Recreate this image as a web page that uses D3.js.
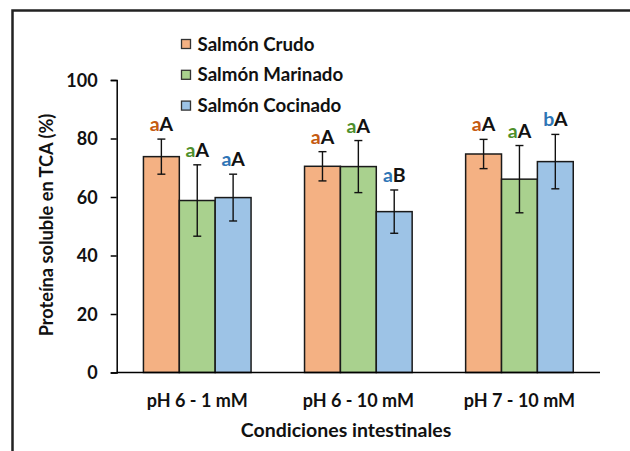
<!DOCTYPE html>
<html><head><meta charset="utf-8">
<script src="https://cdn.jsdelivr.net/npm/d3@7"></script>
<style>
body{margin:0;background:#fff;}
text{font-family:Lato,"Open Sans",sans-serif;font-weight:bold;}
</style></head>
<body><svg id="c" width="630" height="451"></svg>
<script>
const categories = ["pH 6 - 1 mM","pH 6 - 10 mM","pH 7 - 10 mM"];
const seriesNames = ["Salmón Crudo","Salmón Marinado","Salmón Cocinado"];
const crudo = [73.8, 70.5, 74.7];
const marinado = [58.8, 70.4, 66.1];
const cocinado = [59.8, 55.0, 72.1];
const crudoErr = [6.0, 5.0, 5.0];
const marinadoErr = [12.2, 8.9, 11.5];
const cocinadoErr = [8.0, 7.4, 9.3];
const lowerLetters = [["a","a","a"],["a","a","a"],["a","a","b"]];
const upperLetters = [["A","A","A"],["A","A","B"],["A","A","A"]];
const yTicks = [0,20,40,60,80,100];
const fills = ["#f4b183","#a9d18e","#9dc3e6"];
const letterColors = ["#c55a11","#4e8f2b","#2e75b6"];

const values = [crudo, marinado, cocinado];
const errs = [crudoErr, marinadoErr, cocinadoErr];

const svg = d3.select("#c");
svg.append("rect").attr("x",12.5).attr("y",10.5).attr("width",640).attr("height",460)
  .attr("fill","none").attr("stroke","#222").attr("stroke-width",2.5);

const x0 = d3.scaleBand().domain(categories).range([116.7,600]).paddingInner(0.332).paddingOuter(0.166);
const x1 = d3.scaleBand().domain(seriesNames).range([0,x0.bandwidth()]);
const y = d3.scaleLinear().domain([0,100]).range([372.5,80]);

const yAxis = svg.append("g").attr("transform","translate(116.7,0)")
  .call(d3.axisLeft(y).tickValues(yTicks).tickSize(6).tickPadding(13));
yAxis.select(".domain").attr("stroke","#000").attr("stroke-width",1.5);
yAxis.selectAll(".tick line").attr("stroke","#000").attr("stroke-width",1.5);
yAxis.selectAll(".tick text").attr("font-size",18).attr("fill","#111")
  .style("font-family","Lato").style("font-weight","bold").attr("dy","0.36em");

const groups = svg.append("g").selectAll("g").data(categories).join("g")
  .attr("transform",d=>`translate(${x0(d)},0)`);
categories.forEach((c,ci)=>{
  const g = groups.filter(d=>d===c);
  seriesNames.forEach((s,si)=>{
    const v = values[si][ci], e = errs[si][ci];
    const bx = x1(s), bw = x1.bandwidth();
    g.append("rect").attr("x",bx).attr("y",y(v)).attr("width",bw).attr("height",y(0)-y(v))
      .attr("fill",fills[si]).attr("stroke","#1a1a1a").attr("stroke-width",1.5);
    const cx = bx + bw/2;
    g.append("line").attr("x1",cx).attr("x2",cx).attr("y1",y(v+e)).attr("y2",y(v-e))
      .attr("stroke","#111").attr("stroke-width",1.4);
    [v+e, v-e].forEach(t=>g.append("line").attr("x1",cx-4).attr("x2",cx+4).attr("y1",y(t)).attr("y2",y(t))
      .attr("stroke","#111").attr("stroke-width",1.4));
    const t = g.append("text").attr("x",cx).attr("y",y(v+e)-8).attr("text-anchor","middle")
      .attr("font-size",19.5);
    t.append("tspan").attr("fill",letterColors[si]).text(lowerLetters[ci][si]);
    t.append("tspan").attr("fill","#111").text(upperLetters[ci][si]);
  });
});

svg.append("line").attr("x1",116.7).attr("x2",600).attr("y1",y(0)).attr("y2",y(0))
  .attr("stroke","#000").attr("stroke-width",1.5);
const xAxis = svg.append("g").attr("transform",`translate(0,${y(0)})`)
  .call(d3.axisBottom(x0).tickSize(0).tickPadding(0));
xAxis.select(".domain").remove();
xAxis.selectAll(".tick text").attr("y",34).attr("dy",0).attr("font-size",18).attr("fill","#111")
  .style("font-family","Lato").style("font-weight","bold");

svg.append("text").attr("x",346).attr("y",437).attr("text-anchor","middle")
  .attr("font-size",19.5).attr("fill","#111").text("Condiciones intestinales");
svg.append("text").attr("transform","translate(53,225) rotate(-90)").attr("text-anchor","middle")
  .attr("font-size",18.2).attr("fill","#111").text("Proteína soluble en TCA (%)");

const lg = svg.append("g");
seriesNames.forEach((s,i)=>{
  const cy = 44 + i*30.8;
  lg.append("rect").attr("x",181.5).attr("y",cy-4.5).attr("width",9).attr("height",9)
    .attr("fill",fills[i]).attr("stroke","#333").attr("stroke-width",1.3);
  lg.append("text").attr("x",197.5).attr("y",cy+6.5).attr("font-size",18.7).attr("fill","#111").text(s);
});
</script></body></html>
